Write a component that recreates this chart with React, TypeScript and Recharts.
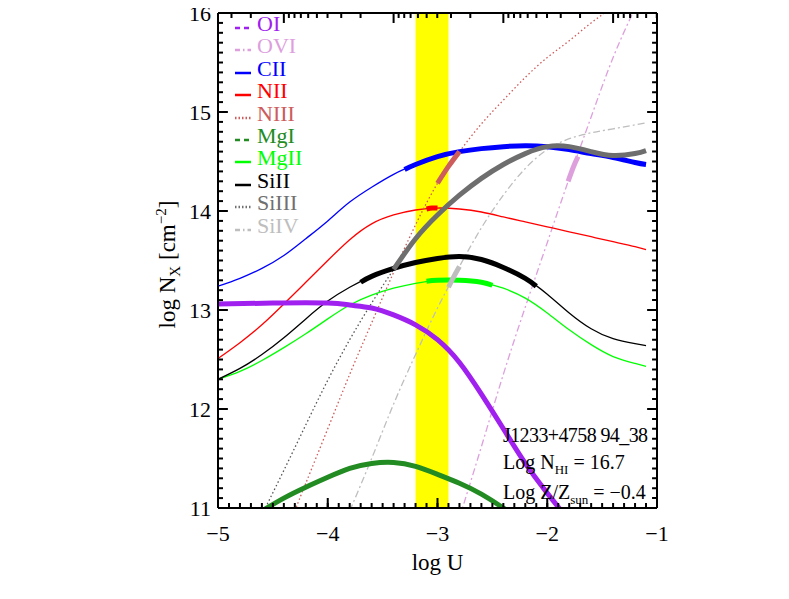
import React from "react";
import { LineChart, Line, XAxis, YAxis, ReferenceArea, ReferenceLine } from "recharts";

type P = [number, number];

// log N vs log U
const oiPts: P[] = [[-5, 13.06], [-4.5, 13.07], [-4.0, 13.07], [-3.8, 13.05], [-3.6, 13.02], [-3.4, 12.95], [-3.2, 12.85], [-3.0, 12.7], [-2.8, 12.47], [-2.6, 12.15], [-2.4, 11.8], [-2.2, 11.45], [-2.0, 11.15], [-1.8, 10.87]];
const oviPts: P[] = [[-2.8, 10.9], [-2.6, 11.62], [-2.4, 12.35], [-2.2, 13.03], [-2.0, 13.68], [-1.8, 14.33], [-1.6, 14.95], [-1.4, 15.55], [-1.2, 16.05]];
const oviThick: P[] = [[-1.81, 14.3], [-1.76, 14.45], [-1.72, 14.55]];
const ciiPts: P[] = [[-5, 13.24], [-4.8, 13.32], [-4.6, 13.42], [-4.4, 13.55], [-4.2, 13.72], [-4.0, 13.9], [-3.8, 14.09], [-3.6, 14.24], [-3.4, 14.37], [-3.2, 14.47], [-3.0, 14.55], [-2.8, 14.6], [-2.6, 14.63], [-2.4, 14.65], [-2.2, 14.66], [-2.0, 14.65], [-1.8, 14.62], [-1.6, 14.58], [-1.4, 14.54], [-1.2, 14.49], [-1.1, 14.47]];
const ciiThick: P[] = [[-3.3, 14.42], [-3.2, 14.47], [-3.0, 14.55], [-2.8, 14.6], [-2.6, 14.63], [-2.4, 14.65], [-2.2, 14.66], [-2.0, 14.65], [-1.8, 14.62], [-1.6, 14.58], [-1.4, 14.54], [-1.2, 14.49], [-1.1, 14.47]];
const niiPts: P[] = [[-5, 12.51], [-4.8, 12.67], [-4.6, 12.85], [-4.4, 13.06], [-4.2, 13.28], [-4.0, 13.5], [-3.8, 13.71], [-3.6, 13.87], [-3.4, 13.96], [-3.2, 14.01], [-3.0, 14.03], [-2.8, 14.02], [-2.6, 13.99], [-2.4, 13.94], [-2.2, 13.89], [-2.0, 13.84], [-1.8, 13.79], [-1.6, 13.74], [-1.4, 13.69], [-1.2, 13.64], [-1.1, 13.61]];
const niiThick: P[] = [[-3.1, 14.02], [-3.05, 14.03], [-3.0, 14.03]];
const niiiPts: P[] = [[-4.3, 10.97], [-4.2, 11.25], [-4.0, 11.8], [-3.8, 12.35], [-3.6, 12.87], [-3.4, 13.38], [-3.2, 13.86], [-3.0, 14.28], [-2.8, 14.6], [-2.6, 14.88], [-2.4, 15.12], [-2.2, 15.35], [-2.0, 15.55], [-1.8, 15.72], [-1.6, 15.9], [-1.4, 16.06]];
const niiiThick: P[] = [[-3.0, 14.28], [-2.9, 14.45], [-2.8, 14.6]];
const mgiPts: P[] = [[-4.6, 10.97], [-4.4, 11.1], [-4.2, 11.21], [-4.0, 11.31], [-3.8, 11.4], [-3.6, 11.45], [-3.4, 11.46], [-3.2, 11.42], [-3.0, 11.34], [-2.8, 11.25], [-2.6, 11.14], [-2.4, 11.0], [-2.3, 10.92]];
const mgiiPts: P[] = [[-5, 12.3], [-4.8, 12.38], [-4.6, 12.49], [-4.4, 12.62], [-4.2, 12.76], [-4.0, 12.91], [-3.8, 13.05], [-3.6, 13.15], [-3.4, 13.22], [-3.2, 13.27], [-3.0, 13.3], [-2.8, 13.3], [-2.6, 13.28], [-2.4, 13.22], [-2.2, 13.12], [-2.0, 12.97], [-1.8, 12.8], [-1.6, 12.65], [-1.4, 12.53], [-1.2, 12.46], [-1.1, 12.43]];
const mgiiThick: P[] = [[-3.1, 13.29], [-3.0, 13.3], [-2.8, 13.3], [-2.6, 13.28], [-2.5, 13.25]];
const siiPts: P[] = [[-5, 12.3], [-4.8, 12.41], [-4.6, 12.55], [-4.4, 12.72], [-4.2, 12.91], [-4.0, 13.09], [-3.8, 13.23], [-3.6, 13.34], [-3.4, 13.42], [-3.2, 13.48], [-3.0, 13.52], [-2.8, 13.54], [-2.6, 13.51], [-2.4, 13.43], [-2.2, 13.32], [-2.0, 13.16], [-1.8, 12.97], [-1.6, 12.81], [-1.4, 12.71], [-1.2, 12.66], [-1.1, 12.64]];
const siiThick: P[] = [[-3.7, 13.28], [-3.6, 13.34], [-3.4, 13.42], [-3.2, 13.48], [-3.0, 13.52], [-2.8, 13.54], [-2.6, 13.51], [-2.4, 13.43], [-2.2, 13.32], [-2.1, 13.24]];
const siiiPts: P[] = [[-4.6, 10.93], [-4.4, 11.38], [-4.2, 11.84], [-4.0, 12.29], [-3.8, 12.7], [-3.6, 13.07], [-3.4, 13.41], [-3.2, 13.72], [-3.0, 13.96], [-2.8, 14.16], [-2.6, 14.33], [-2.4, 14.47], [-2.2, 14.58], [-2.0, 14.65], [-1.8, 14.65], [-1.6, 14.6], [-1.4, 14.56], [-1.2, 14.58], [-1.1, 14.61]];
const siiiThick: P[] = [[-3.4, 13.41], [-3.2, 13.72], [-3.0, 13.96], [-2.8, 14.16], [-2.6, 14.33], [-2.4, 14.47], [-2.2, 14.58], [-2.0, 14.65], [-1.8, 14.65], [-1.6, 14.6], [-1.4, 14.56], [-1.2, 14.58], [-1.1, 14.61]];
const sivPts: P[] = [[-3.8, 10.97], [-3.6, 11.5], [-3.4, 12.05], [-3.2, 12.55], [-3.0, 13.02], [-2.8, 13.44], [-2.6, 13.83], [-2.4, 14.16], [-2.2, 14.43], [-2.0, 14.62], [-1.8, 14.73], [-1.6, 14.79], [-1.4, 14.83], [-1.2, 14.87], [-1.1, 14.89]];
const sivThick: P[] = [[-2.9, 13.23], [-2.85, 13.34], [-2.8, 13.44]];

const band: P = [-3.2, -2.9];

const xMajor = [-5, -4, -3, -2, -1];
const yMajor = [11, 12, 13, 14, 15, 16];
const topMajor = [-4.4, -3.4, -2.4, -1.4];

const FONT = '"Liberation Serif", "Times New Roman", serif';

const tenths = (a: number, b: number) => {
  const out: number[] = [];
  for (let i = Math.round(a * 10); i <= Math.round(b * 10); i++) out.push(i / 10);
  return out;
};
const xTicks = tenths(-5, -1);
const yTicks = tenths(11, 16);
const topTicks: number[] = [...topMajor];
[...topMajor, -0.4].forEach((m) => {
  for (let k = 2; k <= 9; k++) {
    const v = m - Math.log10(k);
    if (v > -5 && v < -1) topTicks.push(v);
  }
});

// long major marks on bottom/left, all marks on top/right (null = gap)
type Pt = { x: number; y: number | null };
const bottomMarks: Pt[] = [];
const topMarks: Pt[] = [];
const leftMarks: Pt[] = [];
const rightMarks: Pt[] = [];
xMajor.forEach((v) => {
  bottomMarks.push({ x: v, y: 11 }, { x: v, y: 11.1 }, { x: v, y: null });
});
yMajor.forEach((v) => {
  leftMarks.push({ x: -5, y: v }, { x: -4.91, y: v }, { x: -4.91, y: null });
});
topTicks.forEach((v) => {
  const L = topMajor.includes(v) ? 0.1 : 0.05;
  topMarks.push({ x: v, y: 16 }, { x: v, y: 16 - L }, { x: v, y: null });
});
yTicks.forEach((v) => {
  const L = yMajor.includes(v) ? 0.09 : 0.045;
  rightMarks.push({ x: -1, y: v }, { x: -1 - L, y: v }, { x: -1 - L, y: null });
});
const markSets = [bottomMarks, topMarks, leftMarks, rightMarks];

const fmt = (v: number) => (v < 0 ? "\u2212" + Math.abs(v) : String(v));
const toData = (p: P[]) => p.map(([x, y]) => ({ x, y }));

const thin = [
  { key: "ovi", pts: oviPts, color: "#DDA0DD", dash: "7 3 2 3" },
  { key: "cii", pts: ciiPts, color: "#0000FF" },
  { key: "nii", pts: niiPts, color: "#FF0000" },
  { key: "niii", pts: niiiPts, color: "#CD5C5C", dash: "1.5 2.5" },
  { key: "mgii", pts: mgiiPts, color: "#00FF00" },
  { key: "sii", pts: siiPts, color: "#000000" },
  { key: "siii", pts: siiiPts, color: "#555555", dash: "1.5 2.5" },
  { key: "siv", pts: sivPts, color: "#BEBEBE", dash: "7 3 2 3" },
];

const thick = [
  { key: "mgi", pts: mgiPts, color: "#228B22" },
  { key: "oi", pts: oiPts, color: "#A020F0" },
  { key: "ciiT", pts: ciiThick, color: "#0000FF" },
  { key: "niiT", pts: niiThick, color: "#FF0000" },
  { key: "mgiiT", pts: mgiiThick, color: "#00FF00" },
  { key: "siiT", pts: siiThick, color: "#000000" },
  { key: "siiiT", pts: siiiThick, color: "#6E6E6E" },
  { key: "niiiT", pts: niiiThick, color: "#CD5C5C" },
  { key: "sivT", pts: sivThick, color: "#BEBEBE" },
  { key: "oviT", pts: oviThick, color: "#DDA0DD" },
];

const legendItems = [
  { name: "OI", color: "#A020F0", dash: "5 4" },
  { name: "OVI", color: "#DDA0DD", dash: "5 3 1.5 3" },
  { name: "CII", color: "#0000FF" },
  { name: "NII", color: "#FF0000" },
  { name: "NIII", color: "#CD5C5C", dash: "1.5 2" },
  { name: "MgI", color: "#228B22", dash: "5 4" },
  { name: "MgII", color: "#00FF00" },
  { name: "SiII", color: "#000000" },
  { name: "SiIII", color: "#707070", dash: "1.5 2" },
  { name: "SiIV", color: "#BEBEBE", dash: "5 3 1.5 3" },
];

const tickStyle = { fontFamily: FONT, fontSize: 22, fill: "#000" };

const XLabel = (p: any) => {
  const vb = p.viewBox;
  return (
    <text x={vb.x + vb.width / 2} y={vb.y + 62} textAnchor="middle" fontFamily={FONT} fontSize={23} fill="#000">
      log U
    </text>
  );
};

const YLabel = (p: any) => {
  const vb = p.viewBox;
  const cx = vb.x + 17;
  const cy = vb.y + vb.height / 2 + 4;
  return (
    <text x={cx} y={cy} transform={`rotate(-90 ${cx} ${cy})`} textAnchor="middle" fontFamily={FONT} fontSize={23} fill="#000">
      log N
      <tspan dy={5} fontSize={15}>X</tspan>
      <tspan dy={-5}> [cm</tspan>
      <tspan dy={-9} fontSize={15}>{"\u22122"}</tspan>
      <tspan dy={9}>]</tspan>
    </text>
  );
};

const frame = { stroke: "#000", strokeWidth: 2 };
const tickMark = { stroke: "#000", strokeWidth: 2 };
const sub = { fontSize: 13, position: "relative" as const, top: 5 };

export default function App() {
  return (
    <div style={{ position: "relative", width: 773, height: 583, fontFamily: FONT }}>
      <LineChart width={773} height={583} margin={{ top: 5, right: 124, bottom: 23, left: 150 }}>
        <XAxis
          xAxisId="b"
          dataKey="x"
          type="number"
          domain={[-5, -1]}
          allowDataOverflow
          ticks={xTicks}
          interval={0}
          tickSize={-5}
          tickMargin={22}
          tickLine={tickMark}
          tick={tickStyle}
          tickFormatter={(v: number) => (xMajor.includes(v) ? fmt(v) : "")}
          axisLine={frame}
          height={60}
          label={XLabel}
        />
        <YAxis
          yAxisId="l"
          type="number"
          domain={[11, 16]}
          allowDataOverflow
          ticks={yTicks}
          interval={0}
          tickSize={-5}
          tickMargin={12}
          tickLine={tickMark}
          tick={tickStyle}
          tickFormatter={(v: number) => (yMajor.includes(v) ? String(v) : "")}
          axisLine={frame}
          width={60}
          label={YLabel}
        />
        <ReferenceArea xAxisId="b" yAxisId="l" x1={band[0]} x2={band[1]} fill="#FFFF00" fillOpacity={1} stroke="none" />
        {thin.map((s) => (
          <Line
            key={s.key}
            xAxisId="b"
            yAxisId="l"
            data={toData(s.pts)}
            dataKey="y"
            type="natural"
            stroke={s.color}
            strokeWidth={1.3}
            strokeDasharray={s.dash}
            dot={false}
            isAnimationActive={false}
          />
        ))}
        {thick.map((s) => (
          <Line
            key={s.key}
            xAxisId="b"
            yAxisId="l"
            data={toData(s.pts)}
            dataKey="y"
            type="natural"
            stroke={s.color}
            strokeWidth={5}
            dot={false}
            isAnimationActive={false}
          />
        ))}
        {markSets.map((m, i) => (
          <Line key={"marks" + i} xAxisId="b" yAxisId="l" data={m} dataKey="y" type="linear" stroke="#000" strokeWidth={2} dot={false} isAnimationActive={false} />
        ))}
        <ReferenceLine xAxisId="b" yAxisId="l" segment={[{ x: -5, y: 16 }, { x: -1, y: 16 }]} stroke="#000" strokeWidth={2} ifOverflow="visible" />
        <ReferenceLine xAxisId="b" yAxisId="l" segment={[{ x: -1, y: 11 }, { x: -1, y: 16 }]} stroke="#000" strokeWidth={2} ifOverflow="visible" />
      </LineChart>

      <div style={{ position: "absolute", left: 226, top: 0, fontSize: 22, lineHeight: "22px" }}>
        {legendItems.map((it, i) => (
          <div key={it.name} style={{ position: "absolute", top: 5 + 22.4 * i, left: 0, whiteSpace: "nowrap", display: "flex", alignItems: "center" }}>
            <svg width={18} height={22} style={{ display: "block" }}>
              <line x1={1} x2={17} y1={15} y2={15} stroke={it.color} strokeWidth={2.5} strokeDasharray={it.dash} />
            </svg>
            <span style={{ color: it.color, marginLeft: 5 }}>{it.name}</span>
          </div>
        ))}
      </div>

      <div style={{ position: "absolute", left: 495, top: 0, fontSize: 20, lineHeight: "22px", color: "#000", whiteSpace: "nowrap" }}>
        <div style={{ position: "absolute", top: 416, letterSpacing: -0.6 }}>J1233+4758 94_38</div>
        <div style={{ position: "absolute", top: 443 }}>
          Log N<span style={sub}>HI</span> = 16.7
        </div>
        <div style={{ position: "absolute", top: 473 }}>
          Log Z/Z<span style={sub}>sun</span> = {"\u2212"}0.4
        </div>
      </div>
    </div>
  );
}
